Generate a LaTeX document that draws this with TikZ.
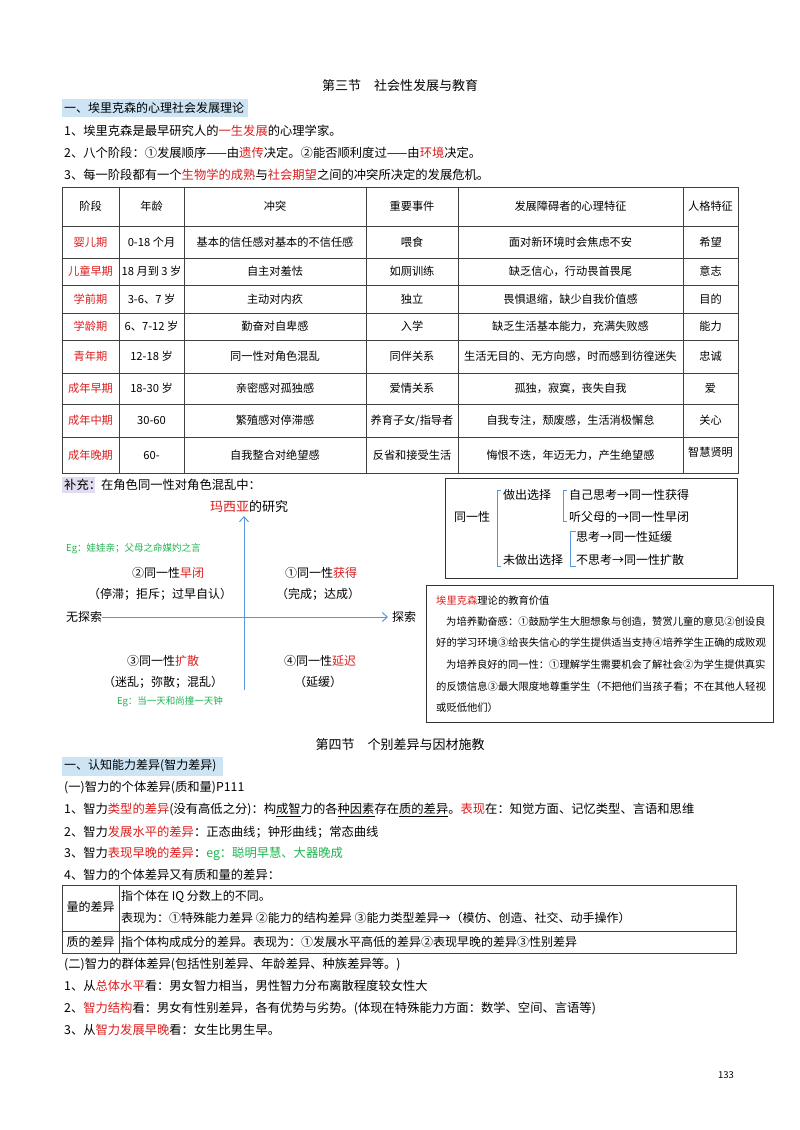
\documentclass[tikz,border=0pt]{standalone}
\usepackage{fontspec}
\setmainfont{Noto Sans CJK SC}
\usetikzlibrary{arrows.meta}
\begin{document}
\begin{tikzpicture}[x=1pt,y=-1pt,
  txt/.style={anchor=west,inner sep=0pt,font=\fontsize{12.3}{14}\selectfont},
  ctr/.style={inner sep=0pt,font=\fontsize{12}{14}\selectfont},
  tc/.style={inner sep=0pt,font=\fontsize{11.2}{13}\selectfont},
  small/.style={anchor=west,inner sep=0pt,font=\fontsize{10.3}{12}\selectfont},
  grid/.style={draw=black!75,line width=0.6pt},
  axis/.style={draw=axblue,line width=1pt,-{Straight Barb[length=5pt,width=9pt]}},
  brk/.style={draw=axblue,line width=0.8pt}]
\definecolor{rd}{RGB}{220,30,30}
\definecolor{gn}{RGB}{30,180,80}
\definecolor{axblue}{RGB}{90,150,220}
\definecolor{hl}{RGB}{205,228,245}
\definecolor{hp}{RGB}{225,220,240}
\newcommand{\R}[1]{\textcolor{rd}{#1}}
\newcommand{\G}[1]{\textcolor{gn}{#1}}
\useasboundingbox[fill=white] (0,0) rectangle (800,1130);
% titles
\node[ctr,font=\fontsize{13}{15}\selectfont] (t1) at (400,86) {第三节\quad 社会性发展与教育};
\fill[hl] (62,99) rectangle (248,117);
\node[txt,font=\fontsize{12}{14}\selectfont] (h1) at (64,108) {一、埃里克森的心理社会发展理论};
\node[txt] (l1) at (64,131) {1、埃里克森是最早研究人的\R{一生发展}的心理学家。};
\node[txt] (l2) at (64,153) {2、八个阶段：①发展顺序——由\R{遗传}决定。②能否顺利度过——由\R{环境}决定。};
\node[txt] (l3) at (64,175) {3、每一阶段都有一个\R{生物学的成熟}与\R{社会期望}之间的冲突所决定的发展危机。};
% table
\draw[grid] (62,187) rectangle (738,473);
\foreach \y in {226,258,285,313,340,373,404,437} \draw[grid] (62,\y) -- (738,\y);
\foreach \x in {119,184,366,458,683} \draw[grid] (\x,187) -- (\x,473);
\foreach \c/\t in {90.5/阶段,151.5/年龄,275/冲突,412/重要事件,570.5/发展障碍者的心理特征,710.5/人格特征}
  \node[tc] at (\c,206) {\t};
\foreach \y/\a/\b/\c/\d/\e in {
 242/婴儿期/0-18 个月/基本的信任感对基本的不信任感/喂食/面对新环境时会焦虑不安,
 271/儿童早期/18 月到 3 岁/自主对羞怯/如厕训练/缺乏信心，行动畏首畏尾,
 299/学前期/3-6、7 岁/主动对内疚/独立/畏惧退缩，缺少自我价值感,
 326.5/学龄期/6、7-12 岁/勤奋对自卑感/入学/缺乏生活基本能力，充满失败感,
 356.5/青年期/12-18 岁/同一性对角色混乱/同伴关系/生活无目的、无方向感，时而感到彷徨迷失,
 388.5/成年早期/18-30 岁/亲密感对孤独感/爱情关系/孤独，寂寞，丧失自我,
 420.5/成年中期/30-60/繁殖感对停滞感/{养育子女/指导者}/自我专注，颓废感，生活消极懈怠,
 455/成年晚期/60-/自我整合对绝望感/反省和接受生活/悔恨不迭，年迈无力，产生绝望感}{
  \node[tc,text=rd] at (90.5,\y) {\a};
  \node[tc] at (151.5,\y) {\b};
  \node[tc] at (275,\y) {\c};
  \node[tc] at (412,\y) {\d};
  \node[tc] at (570.5,\y) {\e};
}
\foreach \y/\f in {242/希望,271/意志,299/目的,326.5/能力,356.5/忠诚,388.5/爱,420.5/关心,452/智慧贤明}
  \node[tc] at (710.5,\y) {\f};
% supplement
\fill[hp] (62,477) rectangle (95,493);
\node[txt] (bc) at (64,485) {补充：在角色同一性对角色混乱中：};
\node[ctr,font=\fontsize{13}{15}\selectfont] (msy) at (249,507) {\R{玛西亚}的研究};
\coordinate (vb) at (244,690); \coordinate (vt) at (244,516);
\coordinate (hl) at (102,617); \coordinate (hr) at (388,617);
\draw[axis] (vb) -- (vt);
\draw[axis] (hl) -- (hr);
\node[small,text=gn,font=\fontsize{9.5}{11}\selectfont] (eg1) at (66,549) {Eg：娃娃亲；父母之命媒妁之言};
\node[ctr] (q2) at (168,573) {②同一性\R{早闭}};
\node[ctr] (q1) at (321,573) {①同一性\R{获得}};
\node[ctr] (q2b) at (160,594) {（停滞；拒斥；过早自认）};
\node[ctr] (q1b) at (318,594) {（完成；达成）};
\node[ctr] (wts) at (84,617) {无探索};
\node[ctr] (ts) at (404,617) {探索};
\node[ctr] (q3) at (163,661) {③同一性\R{扩散}};
\node[ctr] (q4) at (320,661) {④同一性\R{延迟}};
\node[ctr] (q3b) at (163,682) {（迷乱；弥散；混乱）};
\node[ctr] (q4b) at (318,682) {（延缓）};
\node[ctr,text=gn,font=\fontsize{9.5}{11}\selectfont] (eg2) at (170,702) {Eg：当一天和尚撞一天钟};
% box1
\draw[black!80,line width=0.9pt] (445,478) rectangle (737,578);
\node[ctr] (tyx) at (472,517) {同一性};
\draw[brk] (501,490) -- (497,490) -- (497,566) -- (501,566);
\node[txt,font=\fontsize{12}{14}\selectfont] (zc) at (503,495) {做出选择};
\node[txt,font=\fontsize{12}{14}\selectfont] (wzc) at (503,560) {未做出选择};
\draw[brk] (567,490) -- (563,490) -- (563,521) -- (567,521);
\node[txt,font=\fontsize{12}{14}\selectfont] (a1) at (569,495) {自己思考→同一性获得};
\node[txt,font=\fontsize{12}{14}\selectfont] (a2) at (569,517) {听父母的→同一性早闭};
\draw[brk] (576,531) -- (570,531) -- (570,566) -- (576,566);
\node[txt,font=\fontsize{12}{14}\selectfont] (a3) at (576,537) {思考→同一性延缓};
\node[txt,font=\fontsize{12}{14}\selectfont] (a4) at (576,560) {不思考→同一性扩散};
% box2
\draw[black!80,line width=0.9pt] (426,585) rectangle (773,722);
\node[small] (b1) at (436,601) {\R{埃里克森}理论的教育价值};
\node[small] (b2) at (446,622) {为培养勤奋感：①鼓励学生大胆想象与创造，赞赏儿童的意见②创设良};
\node[small] (b3) at (436,643) {好的学习环境③给丧失信心的学生提供适当支持④培养学生正确的成败观};
\node[small] (b4) at (446,665) {为培养良好的同一性：①理解学生需要机会了解社会②为学生提供真实};
\node[small] (b5) at (436,687) {的反馈信息③最大限度地尊重学生（不把他们当孩子看；不在其他人轻视};
\node[small] (b6) at (436,708) {或贬低他们）};
% section 4
\node[ctr,font=\fontsize{13}{15}\selectfont] (t2) at (400,745) {第四节\quad 个别差异与因材施教};
\fill[hl] (62,757) rectangle (223,776);
\node[txt,font=\fontsize{12}{14}\selectfont] (h2) at (64,766) {一、认知能力差异(智力差异)};
\node[txt] (m0) at (64,788) {(一)智力的个体差异(质和量)P111};
\node[txt] (m1) at (64,810) {1、智力\R{类型的差异}(没有高低之分)：构\underline{成智}力的各\underline{种因素}存在\underline{质的差异}。\R{表现}在：知觉方面、记忆类型、言语和思维};
\node[txt] (m2) at (64,832) {2、智力\R{发展水平的差异}：正态曲线；钟形曲线；常态曲线};
\node[txt] (m3) at (64,854) {3、智力\R{表现早晚的差异}：\G{eg：聪明早慧、大器晚成}};
\node[txt] (m4) at (64,875) {4、智力的个体差异又有质和量的差异：};
\draw[grid] (62,885) rectangle (736,953);
\draw[grid] (62,931) -- (736,931);
\draw[grid] (119,885) -- (119,953);
\node[ctr] (lc) at (90.5,907) {量的差异};
\node[ctr] (zcy) at (90.5,942) {质的差异};
\node[txt,font=\fontsize{12}{14}\selectfont] (r1) at (121,897) {指个体在 IQ 分数上的不同。};
\node[txt,font=\fontsize{12}{14}\selectfont] (r2) at (121,918) {表现为：①特殊能力差异\ ②能力的结构差异\ ③能力类型差异→（模仿、创造、社交、动手操作）};
\node[txt,font=\fontsize{12}{14}\selectfont] (r3) at (121,942) {指个体构成成分的差异。表现为：①发展水平高低的差异②表现早晚的差异③性别差异};
\node[txt] (n0) at (64,964) {(二)智力的群体差异(包括性别差异、年龄差异、种族差异等。)};
\node[txt] (n1) at (64,986) {1、从\R{总体水平}看：男女智力相当，男性智力分布离散程度较女性大};
\node[txt] (n2) at (64,1008) {2、\R{智力结构}看：男女有性别差异，各有优势与劣势。(体现在特殊能力方面：数学、空间、言语等)};
\node[txt] (n3) at (64,1030) {3、从\R{智力发展早晚}看：女生比男生早。};
\node[ctr,font=\fontsize{9.5}{11}\selectfont] (pg) at (726,1075) {133};
\end{tikzpicture}
\end{document}
